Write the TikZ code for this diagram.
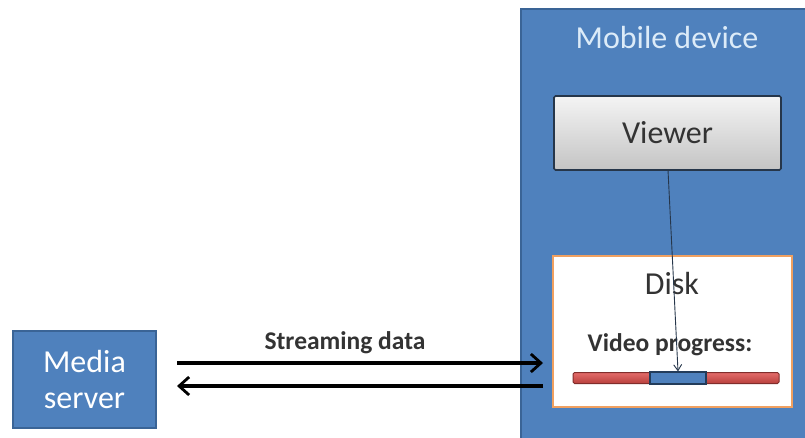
\documentclass[tikz,border=0pt]{standalone}
\usepackage{fontspec}
\setmainfont{Carlito}
\usetikzlibrary{arrows.meta,shadows}
\definecolor{boxblue}{HTML}{4F81BD}
\definecolor{boxblueedge}{HTML}{3A6496}
\definecolor{paleblue}{HTML}{DCEBF8}
\definecolor{diskedge}{HTML}{F0A060}
\definecolor{barred}{HTML}{B8403D}
\definecolor{barredlight}{HTML}{E46C6A}
\definecolor{viewtop}{HTML}{F4F4F4}
\definecolor{viewbot}{HTML}{C4C4C4}
\definecolor{viewedge}{HTML}{26364A}
\definecolor{inktext}{HTML}{333333}
\tikzset{
  bigtext/.style={font=\fontsize{32}{35}\selectfont},
  boldtext/.style={font=\bfseries\fontsize{25.5}{28}\selectfont, text=inktext},
  bluebox/.style={draw=boxblueedge, line width=1.5pt, fill=boxblue, inner sep=0pt},
  viewerbox/.style={draw=viewedge, line width=1.6pt, top color=viewtop, bottom color=viewbot,
    rounded corners=1.5pt, inner sep=0pt, minimum width=227pt, minimum height=74pt,
    bigtext, text=inktext},
  diskbox/.style={draw=diskedge, line width=2.6pt, fill=white, inner sep=0pt,
    minimum width=239pt, minimum height=151pt},
  flow/.style={line width=3.2pt, -{Straight Barb[length=10pt,width=18pt,line width=2.8pt]}},
  pointer/.style={draw=viewedge, line width=0.9pt, -{Straight Barb[length=6pt,width=8pt]}},
}
\begin{document}
\begin{tikzpicture}[x=1pt,y=-1pt]
\useasboundingbox (0,0) rectangle (805,437);

% Mobile device container (runs off the right and bottom edges)
\node[bluebox, anchor=north west, minimum width=300pt, minimum height=440pt] (mobile) at (520,8) {};
\node[bigtext, text=paleblue] (mobiletitle) at (667,37) {Mobile device};

% Viewer
\node[viewerbox] (viewer) at (667.5,133) {Viewer};

% Disk with the video progress bar
\node[diskbox] (disk) at (672.5,331.5) {};
\node[bigtext, text=inktext] (disktitle) at (672,283) {Disk};
\node[boldtext] (progress) at (670,345) {Video progress:};
\node[draw=barred!70!black, line width=1pt, top color=barredlight, bottom color=barred,
      inner sep=0pt, minimum width=206pt, minimum height=11pt, rounded corners=1.5pt] (bar) at (676,378) {};
\node[draw=boxblueedge!60!black, line width=1.2pt, fill=boxblue,
      inner sep=0pt, minimum width=56pt, minimum height=12pt] (played) at (678,378) {};

% Media server
\node[bluebox, minimum width=143pt, minimum height=97pt, text=white,
      align=center, font=\fontsize{32}{36}\selectfont] (media) at (84.5,379.5) {Media\\server};

% Connectors
\coordinate (viewerfoot) at (668,170);
\draw[pointer] (viewerfoot) -- (played.north);
\coordinate (outA) at (177,363);
\coordinate (inA) at (543,363);
\coordinate (outB) at (543,386);
\coordinate (inB) at (177,386);
\draw[flow] (outA) -- (inA);
\draw[flow] (outB) -- (inB);
\node[boldtext] (streamlabel) at (345,343) {Streaming data};
\end{tikzpicture}
\end{document}
